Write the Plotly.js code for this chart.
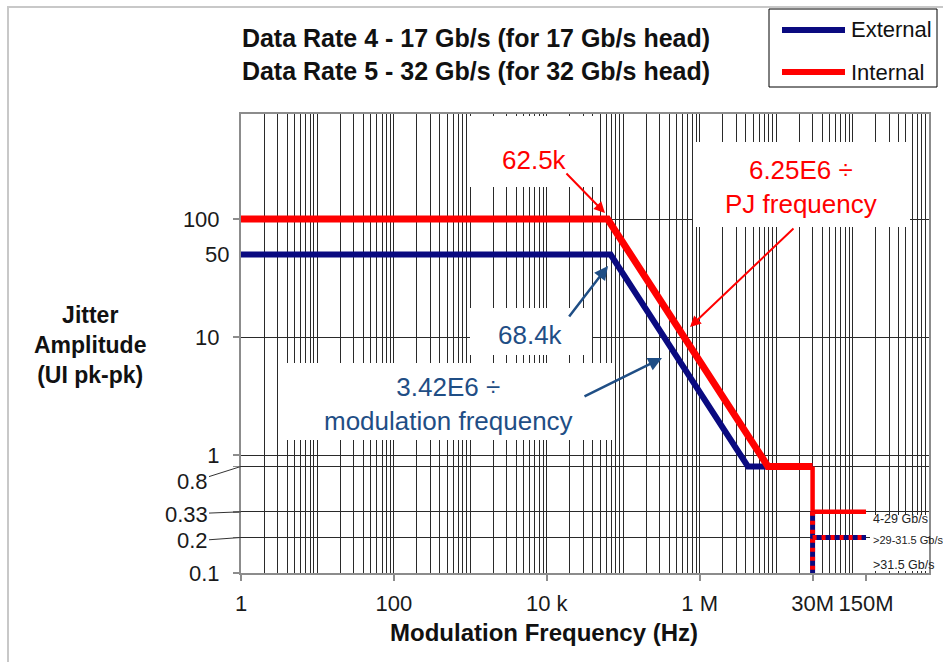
<!DOCTYPE html>
<html><head><meta charset="utf-8">
<script src="https://cdn.plot.ly/plotly-3.0.1.min.js"></script>
<style>html,body{margin:0;padding:0;background:#fff}</style>
</head><body><div id="chart" style="width:943px;height:662px"></div>
<script>
// ---- data ----
const extFreq = [1, 68400, 4275000, 30000000];
const extAmp = [50, 50, 0.8, 0.8];
const intFreq = [1, 62500, 7812500, 30000000];
const intAmp = [100, 100, 0.8, 0.8];
const int429Freq = [30000000, 30000000, 150000000];
const int429Amp = [0.8, 0.33, 0.33];
const hiVertFreq = [30000000, 30000000];
const hiVertAmp = [0.33, 0.1];
const hiHorFreq = [30000000, 150000000];
const hiHorAmp = [0.2, 0.2];
const xTickVals = [1, 100, 1e4, 1e6, 3e7, 1.5e8];
const xTickText = ['1', '100', '10 k', '1 M', '30M', '150M'];
const yTickVals = [0.1, 0.2, 0.33, 0.8, 1, 10, 100];
const yTickText = ['0.1', '', '', '', '1', '10', '100'];
const rateLabels = ['4-29 Gb/s', '>29-31.5 Gb/s', '>31.5 Gb/s'];

// ---- helpers ----
const FONT = 'Arial, "Liberation Sans", sans-serif';
const NAVY = '#0a0a80';
const RED = '#ff0000';
const BLUE_TXT = '#1f4e85';
const L = 241, R = 929, T = 114, B = 573;
const px = x => (x - L) / (R - L);
const py = y => (B - y) / (B - T);
const gridX = [];
for (let e = 0; e <= 8; e++) for (let m = 1; m <= 9; m++) gridX.push(m * Math.pow(10, e));

const traces = [
  {x: extFreq, y: extAmp, mode: 'lines', line: {color: NAVY, width: 6}, showlegend: false, hoverinfo: 'skip'},
  {x: intFreq, y: intAmp, mode: 'lines', line: {color: RED, width: 7}, showlegend: false, hoverinfo: 'skip'},
  {x: int429Freq, y: int429Amp, mode: 'lines', line: {color: RED, width: 4.5}, showlegend: false, hoverinfo: 'skip'},
  {x: hiVertFreq, y: hiVertAmp, mode: 'lines', line: {color: NAVY, width: 5}, showlegend: false, hoverinfo: 'skip'},
  {x: hiVertFreq, y: hiVertAmp, mode: 'lines', line: {color: RED, width: 5, dash: '4px,5px'}, showlegend: false, hoverinfo: 'skip'},
  {x: hiHorFreq, y: hiHorAmp, mode: 'lines', line: {color: NAVY, width: 5}, showlegend: false, hoverinfo: 'skip'},
  {x: hiHorFreq, y: hiHorAmp, mode: 'lines', line: {color: RED, width: 5, dash: '4px,5px'}, showlegend: false, hoverinfo: 'skip'},
  {x: [], y: [], xaxis: 'x2', yaxis: 'y', showlegend: false}
];

const whiteBox = (x0, y0, x1, y1) => ({type: 'rect', xref: 'paper', yref: 'paper',
  x0: px(x0), x1: px(x1), y0: py(y1), y1: py(y0), fillcolor: '#fff', line: {width: 0}, layer: 'above'});

const shapes = [
  // outer light border
  {type: 'rect', xref: 'paper', yref: 'paper', x0: px(8), x1: px(960), y0: py(680), y1: py(7),
   line: {color: '#c8c8c8', width: 2}, fillcolor: 'rgba(0,0,0,0)', layer: 'below'},
  whiteBox(468, 116, 600, 187),
  whiteBox(693, 142, 910, 227),
  whiteBox(470, 308, 592, 355),
  whiteBox(280, 363, 612, 440),
  whiteBox(870, 515, 927, 571),
  // legend
  {type: 'rect', xref: 'paper', yref: 'paper', x0: px(769), x1: px(937), y0: py(87), y1: py(9),
   line: {color: '#000', width: 1}, fillcolor: '#fff'},
  {type: 'line', xref: 'paper', yref: 'paper', x0: px(782), x1: px(845), y0: py(30), y1: py(30),
   line: {color: NAVY, width: 6}},
  {type: 'line', xref: 'paper', yref: 'paper', x0: px(782), x1: px(845), y0: py(72), y1: py(72),
   line: {color: RED, width: 6}}
];

const txt = (text, x, y, size, color, extra) => Object.assign({text: text, xref: 'paper', yref: 'paper',
  x: px(x), y: py(y), xanchor: 'center', yanchor: 'middle', showarrow: false,
  font: {family: FONT, size: size, color: color}}, extra || {});
const arrow = (hx, hy, tx, ty, color, w) => ({text: '', xref: 'paper', yref: 'paper', x: px(hx), y: py(hy),
  ax: tx - hx, ay: ty - hy, showarrow: true, arrowhead: 2, arrowsize: 1.1, arrowwidth: w, arrowcolor: color});
const leader = (label, yv, tx, ty) => ({text: label, xref: 'paper', yref: 'y', x: 0, y: Math.log10(yv),
  ax: tx - L, ay: ty - (B - (Math.log10(yv) + 1) * (B - T) / 3.89), showarrow: true, arrowhead: 0,
  arrowwidth: 1, arrowcolor: '#333', standoff: 0,
  font: {family: FONT, size: 22, color: '#1a1a1a'}});

const annotations = [
  txt('<b>Jitter<br>Amplitude<br>(UI pk-pk)</b>', 90, 345, 23, '#111'),
  txt('<b>Modulation Frequency (Hz)</b>', 544, 632, 24, '#111'),
  txt('50', 217, 254, 22, '#1a1a1a'),
  leader('0.8', 0.8, 192, 482),
  leader('0.33', 0.33, 186, 514),
  leader('0.2', 0.2, 192, 541),
  txt('62.5k', 534, 160, 26, RED),
  txt('6.25E6 ÷<br>PJ frequency', 801, 187, 26, RED),
  txt('68.4k', 530, 335, 26, BLUE_TXT),
  txt('3.42E6 ÷<br>modulation frequency', 448, 404, 26, BLUE_TXT),
  arrow(605, 213, 565, 172, RED, 2),
  arrow(690, 327, 795, 227, RED, 2),
  arrow(608, 266, 568, 318, BLUE_TXT, 2.5),
  arrow(662, 358, 583, 397, BLUE_TXT, 2.5),
  txt(rateLabels[0], 871, 519, 12.5, '#222', {xanchor: 'left'}),
  txt(rateLabels[1], 871, 540, 11, '#222', {xanchor: 'left'}),
  txt(rateLabels[2], 871, 565, 12.5, '#222', {xanchor: 'left'}),
  txt('External', 849, 30, 22, '#111', {xanchor: 'left'}),
  txt('Internal', 849, 72, 22, '#111', {xanchor: 'left'})
];

const layout = {
  width: 943, height: 662,
  margin: {l: L, r: 943 - R, t: T, b: 662 - B, pad: 0},
  paper_bgcolor: '#fff', plot_bgcolor: '#fff',
  showlegend: false,
  title: {text: '<b>Data Rate 4 - 17 Gb/s (for 17 Gb/s head)<br>Data Rate 5 - 32 Gb/s (for 32 Gb/s head)</b>',
    font: {family: FONT, size: 25, color: '#111'}, xref: 'container', yref: 'container',
    x: 476 / 943, xanchor: 'center', y: 1 - 47 / 662, yanchor: 'top'},
  xaxis: {type: 'log', range: [0, 9], tickvals: gridX, showticklabels: false, ticks: '',
    showgrid: true, gridcolor: '#2a2a2a', gridwidth: 1, showline: true, linecolor: '#8c8c8c',
    linewidth: 2, mirror: true, zeroline: false, fixedrange: true},
  xaxis2: {type: 'log', range: [0, 9], overlaying: 'x', anchor: 'y', side: 'bottom',
    tickvals: xTickVals, ticktext: xTickText, ticks: 'outside', ticklen: 7, tickwidth: 2,
    tickcolor: '#8c8c8c', showgrid: false, showline: false, zeroline: false,
    tickfont: {family: FONT, size: 22, color: '#1a1a1a'}, ticklabelstandoff: 4},
  yaxis: {type: 'log', range: [-1, 2.89], tickvals: yTickVals, ticktext: yTickText,
    ticks: 'outside', ticklen: 6, tickwidth: 1.5, tickcolor: '#8c8c8c',
    showgrid: true, gridcolor: '#2a2a2a', gridwidth: 1, showline: true, linecolor: '#8c8c8c',
    linewidth: 2, mirror: true, zeroline: false, ticklabelstandoff: 9,
    tickfont: {family: FONT, size: 22, color: '#1a1a1a'}},
  shapes: shapes,
  annotations: annotations
};

Plotly.newPlot('chart', traces, layout, {staticPlot: true, displayModeBar: false});
</script>
</body></html>
